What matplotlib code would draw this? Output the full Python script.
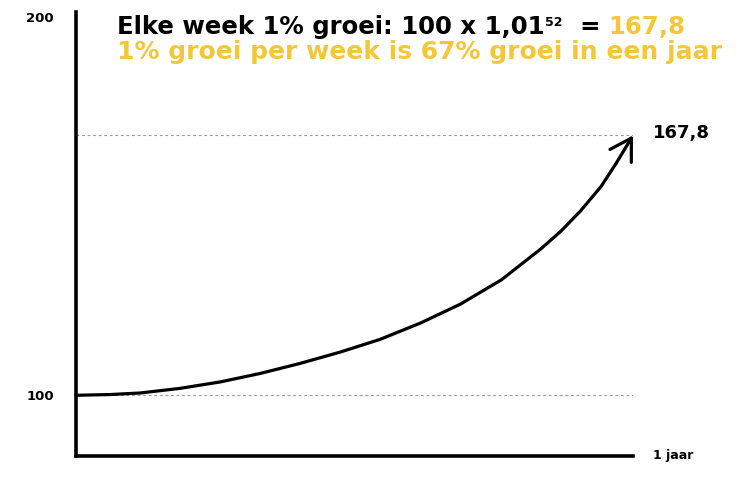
import matplotlib
matplotlib.use('Agg')
from matplotlib import pyplot as plt

# curve as drawn in the picture (week, value)
weeks = [0, 3.2, 6.0, 9.7, 13.5, 17.2, 20.9, 24.7, 28.4, 32.2, 35.9, 39.7, 43.4, 45.3, 47.1, 49.0, 50.4, 52]
values = [100, 100.2, 100.6, 101.8, 103.5, 105.7, 108.3, 111.3, 114.6, 118.9, 123.8, 130.1, 138.2, 142.9, 148.1, 154.4, 160.4, 167.8]

start_value = 100
end_value = 167.8
ytick_vals = [100, 200]
ytick_labels = ['100', '200']

title_black = 'Elke week 1% groei: 100 x 1,01'
title_sup = '52'
title_eq = '='
title_result = '167,8'
subtitle = '1% groei per week is 67% groei in een jaar'
end_label = '167,8'
x_label = '1 jaar'

YELLOW = '#F2C73A'
W, H = 743, 483


def px(x, y):
    return x / W, 1 - y / H


plt.rcParams['font.family'] = 'DejaVu Sans'

fig = plt.figure(figsize=(W / 100, H / 100), dpi=100)
ax = fig.add_axes([76 / W, 1 - 456 / H, (633 - 76) / W, (456 - 12) / H])

ax.set_xlim(0, 52)
ax.set_ylim(84.16, 200)

for s in ['top', 'right']:
    ax.spines[s].set_visible(False)
for s in ['left', 'bottom']:
    ax.spines[s].set_linewidth(2.6)
    ax.spines[s].set_color('black')

ax.set_xticks([])
ax.set_yticks(ytick_vals)
ax.set_yticklabels(ytick_labels, fontweight='bold', fontsize=9.5)
ax.tick_params(axis='y', length=0, pad=16)
ax.get_yticklabels()[1].set_va('top')

# dashed guide lines
ax.plot([0, 52], [start_value, start_value], ls=(0, (2.5, 2.5)), color='#999999', lw=0.8)
ax.plot([0, 52], [end_value, end_value], ls=(0, (2.5, 2.5)), color='#999999', lw=0.8)

# curve with arrow head
ax.plot(weeks[:-1], values[:-1], color='black', lw=2.3, solid_capstyle='round',
        solid_joinstyle='round', clip_on=False)
ax.annotate('', xy=(weeks[-1], values[-1]), xytext=(weeks[-2], values[-2]),
            arrowprops=dict(arrowstyle='->,head_length=0.75,head_width=0.45', lw=2.3,
                            color='black', shrinkA=0, shrinkB=0, mutation_scale=20),
            annotation_clip=False)

fig.text(*px(653, 133), end_label, fontsize=13, fontweight='bold', va='center', ha='left')
fig.text(*px(653, 456), x_label, fontsize=9, fontweight='bold', va='center', ha='left')

# title lines, pieces chained left to right
r = fig.canvas.get_renderer()
t = fig.text(*px(117, 34), title_black, fontsize=17.6, fontweight='bold', va='baseline')
x1 = t.get_window_extent(r).x1
t = fig.text((x1 + 1) / W, 1 - 26 / H, title_sup, fontsize=9, fontweight='bold', va='baseline')
x1 = t.get_window_extent(r).x1
t = fig.text((x1 + 16) / W, 1 - 34 / H, title_eq, fontsize=17.6, fontweight='bold', va='baseline')
x1 = t.get_window_extent(r).x1
fig.text((x1 + 9) / W, 1 - 34 / H, title_result, fontsize=17.6, fontweight='bold',
         va='baseline', color=YELLOW)
fig.text(*px(117, 59), subtitle, fontsize=18, fontweight='bold', va='baseline', color=YELLOW)

fig.savefig('out.png', dpi=100)
